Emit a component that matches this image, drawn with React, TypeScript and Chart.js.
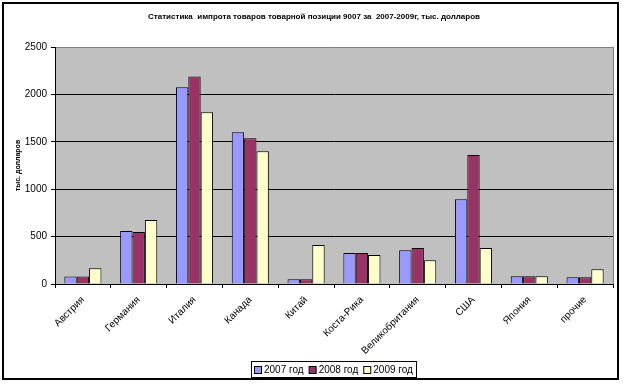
import React, { useEffect, useRef } from "react";
import { Chart, registerables } from "chart.js";

Chart.register(...registerables);

const categories = ["Австрия", "Германия", "Италия", "Канада", "Китай", "Коста-Рика", "Великобритания", "США", "Япония", "прочие"];
const seriesLabels = ["2007 год", "2008 год", "2009 год"];
const values2007 = [78, 559, 2075, 1600, 50, 327, 355, 893, 82, 71];
const values2008 = [78, 548, 2190, 1537, 50, 327, 380, 1361, 82, 71];
const values2009 = [166, 675, 1811, 1400, 411, 306, 250, 380, 82, 155];
const seriesColors = ["#9999FF", "#993366", "#FFFFCC"];
const yMin = 0;
const yMax = 2500;
const yStep = 500;
const titleText = "Статистика  импрота товаров товарной позиции 9007 за  2007-2009г, тыс. долларов";
const yTitleText = "тыс. долларов";

const FONT = "Arial, 'Liberation Sans', sans-serif";

const decorPlugin = {
  id: "decor",
  beforeDraw(chart: any) {
    const { ctx, chartArea, width, height } = chart;
    ctx.save();
    ctx.fillStyle = "#FFFFFF";
    ctx.fillRect(0, 0, width, height);
    ctx.fillStyle = "#C0C0C0";
    ctx.fillRect(chartArea.left, chartArea.top, chartArea.right - chartArea.left, chartArea.bottom - chartArea.top);
    ctx.strokeStyle = "#808080";
    ctx.lineWidth = 1;
    ctx.beginPath();
    ctx.moveTo(chartArea.right + 0.5, chartArea.top);
    ctx.lineTo(chartArea.right + 0.5, chartArea.bottom);
    ctx.stroke();
    ctx.restore();
  },
  afterDraw(chart: any) {
    const { ctx } = chart;
    ctx.save();
    // title
    ctx.fillStyle = "#000";
    ctx.font = `bold 8px ${FONT}`;
    ctx.textAlign = "center";
    ctx.textBaseline = "middle";
    ctx.fillText(titleText, 314, 17);

    // legend
    ctx.font = `10px ${FONT}`;
    const ds = chart.data.datasets;
    const box = 7;
    const gapBox = 3;
    const gapItem = 5;
    let total = 0;
    const widths = ds.map((d: any) => ctx.measureText(d.label).width);
    widths.forEach((w: number, i: number) => {
      total += box + gapBox + w + (i < widths.length - 1 ? gapItem : 0);
    });
    const padX = 3;
    const cx = 333;
    const lx = Math.round(cx - total / 2 - padX);
    const lw = Math.round(total + padX * 2);
    const ly = 361;
    const lh = 16;
    ctx.strokeStyle = "#000";
    ctx.lineWidth = 1;
    ctx.strokeRect(lx + 0.5, ly + 0.5, lw, lh);
    let x = lx + padX;
    const my = ly + lh / 2 + 0.5;
    ctx.textAlign = "left";
    ds.forEach((d: any, i: number) => {
      ctx.fillStyle = d.backgroundColor;
      ctx.fillRect(x + 0.5, Math.round(my - box / 2) + 0.5, box, box);
      ctx.strokeStyle = "#000";
      ctx.strokeRect(x + 0.5, Math.round(my - box / 2) + 0.5, box, box);
      x += box + gapBox;
      ctx.fillStyle = "#000";
      ctx.fillText(d.label, x, my + 1);
      x += widths[i] + gapItem;
    });

    // outer border
    ctx.strokeStyle = "#000";
    ctx.lineWidth = 2;
    ctx.strokeRect(3, 3, 615, 376);
    ctx.restore();
  },
};

export default function App() {
  const ref = useRef<HTMLCanvasElement | null>(null);
  useEffect(() => {
    document.body.style.margin = "0";
    const canvas = ref.current;
    if (!canvas) return;
    const chart = new Chart(canvas, {
      type: "bar",
      data: {
        labels: categories,
        datasets: [values2007, values2008, values2009].map((vals, i) => ({
          label: seriesLabels[i],
          data: vals,
          backgroundColor: seriesColors[i],
          borderColor: "#000000",
          borderWidth: 1,
          categoryPercentage: 0.665,
          barPercentage: 1.0,
        })),
      },
      options: {
        responsive: false,
        animation: false,
        devicePixelRatio: 1,
        layout: { padding: { left: 0, top: 47, right: 10, bottom: 0 } },
        plugins: {
          legend: { display: false },
          title: { display: false },
          tooltip: { enabled: false },
        },
        scales: {
          x: {
            afterFit: (scale: any) => {
              scale.height = 100;
            },
            grid: {
              offset: true,
              drawOnChartArea: false,
              drawTicks: true,
              tickLength: 4,
              tickColor: "#000",
              color: "#000",
            },
            border: { display: true, color: "#000", width: 1 },
            ticks: {
              autoSkip: false,
              maxRotation: 45,
              minRotation: 45,
              color: "#000",
              font: { family: FONT, size: 10 },
              padding: 6,
            },
          },
          y: {
            min: yMin,
            max: yMax,
            afterFit: (scale: any) => {
              scale.width = 55;
            },
            ticks: {
              stepSize: yStep,
              color: "#000",
              font: { family: FONT, size: 10 },
              padding: 4,
              callback: (v: any) => String(v),
            },
            grid: {
              color: (c: any) => (c.tick && c.tick.value === yMax ? "#808080" : "#000"),
              tickColor: "#000",
              tickLength: 4,
              lineWidth: 1,
            },
            border: { display: true, color: "#000", width: 1 },
            title: {
              display: true,
              text: yTitleText,
              color: "#000",
              font: { family: FONT, size: 7, weight: "bold" },
              padding: { top: 14, bottom: 0 },
            },
          },
        },
      },
      plugins: [decorPlugin],
    });
    return () => chart.destroy();
  }, []);
  return (
    <div style={{ width: 623, height: 384 }}>
      <canvas ref={ref} width={623} height={384} style={{ width: 623, height: 384, display: "block" }} />
    </div>
  );
}
